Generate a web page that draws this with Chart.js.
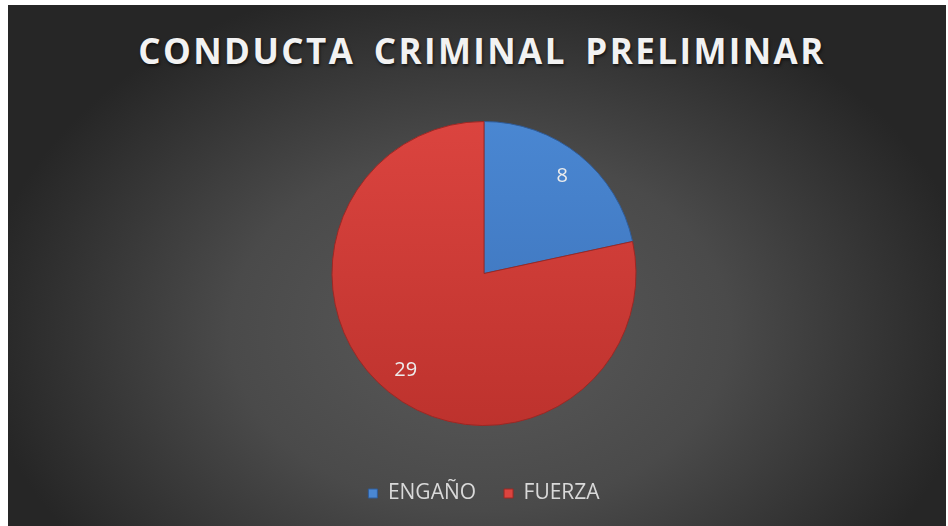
<!DOCTYPE html>
<html>
<head>
<meta charset="utf-8">
<script src="https://cdn.jsdelivr.net/npm/chart.js@4/dist/chart.umd.min.js"></script>
<style>
  html, body { margin: 0; padding: 0; background: #fff; }
  #wrap { position: relative; width: 948px; height: 526px; overflow: hidden; }
  #frame {
    position: absolute; left: 8px; top: 5px; width: 938px; height: 521px;
    background: radial-gradient(ellipse 500px 360px at 472px 325px, #5a5a5a 0%, #4a4a4a 50%, #262626 100%);
  }
  #title {
    position: absolute; left: 0; top: 27px; width: 964px; text-align: center;
    font-family: "Open Sans", sans-serif; font-weight: 700; font-size: 35px;
    letter-spacing: 2.4px; word-spacing: 7px; color: #f2f2f2;
    text-shadow: 1px 2px 3px rgba(0,0,0,0.6);
  }
  #chart { position: absolute; left: 0; top: 0; }
</style>
</head>
<body>
<div id="wrap">
  <div id="frame"></div>
  <div id="title">CONDUCTA CRIMINAL PRELIMINAR</div>
  <canvas id="chart" width="948" height="526"></canvas>
</div>
<script>
// ── Data ───────────────────────────────────────────────────────────────────
const CATEGORIES = ['ENGAÑO', 'FUERZA'];
const VALUES     = [8, 29];

// ── Slice colours (top / bottom of a soft vertical gradient) ───────────────
const TOP_COLORS    = ['#4a87d2', '#db443f'];
const BOTTOM_COLORS = ['#3a6fb6', '#bd322d'];
const EDGE_COLORS   = ['#2f5c99', '#9c2824'];

function sliceFill(ctx) {
  const chart = ctx.chart;
  const area = chart.chartArea;
  if (!area) return TOP_COLORS[ctx.dataIndex];
  const g = chart.ctx.createLinearGradient(0, 120, 0, 430);
  g.addColorStop(0, TOP_COLORS[ctx.dataIndex]);
  g.addColorStop(1, BOTTOM_COLORS[ctx.dataIndex]);
  return g;
}

// ── Value labels inside the slices ─────────────────────────────────────────
const valueLabels = {
  id: 'valueLabels',
  afterDatasetsDraw(chart) {
    const c = chart.ctx;
    const meta = chart.getDatasetMeta(0);
    c.save();
    c.font = '20px "Open Sans", sans-serif';
    c.fillStyle = '#ececec';
    c.textAlign = 'center';
    c.textBaseline = 'middle';
    meta.data.forEach((arc, i) => {
      const p = arc.getProps(['x', 'y', 'startAngle', 'endAngle', 'outerRadius'], true);
      const mid = (p.startAngle + p.endAngle) / 2;
      const r = p.outerRadius * 0.82;
      c.fillText(String(VALUES[i]), p.x + Math.cos(mid) * r, p.y + Math.sin(mid) * r);
    });
    c.restore();
  },
};

new Chart(document.getElementById('chart'), {
  type: 'pie',
  data: {
    labels: CATEGORIES,
    datasets: [{
      data: VALUES,
      backgroundColor: sliceFill,
      borderColor: EDGE_COLORS,
      borderWidth: 1,
      radius: 152,
    }],
  },
  options: {
    responsive: false,
    animation: false,
    layout: { padding: { left: 20, right: 0, top: 92, bottom: 12 } },
    plugins: {
      title: { display: false },
      tooltip: { enabled: false },
      legend: {
        position: 'bottom',
        labels: {
          color: '#d9d9d9',
          font: { family: '"Open Sans", sans-serif', size: 21 },
          boxWidth: 9,
          boxHeight: 9,
          padding: 28,
          generateLabels(chart) {
            return CATEGORIES.map((name, i) => ({
              text: name,
              fillStyle: TOP_COLORS[i],
              strokeStyle: EDGE_COLORS[i],
              lineWidth: 1,
              fontColor: '#d9d9d9',
              index: i,
            }));
          },
        },
      },
    },
  },
  plugins: [valueLabels],
});
</script>
</body>
</html>
